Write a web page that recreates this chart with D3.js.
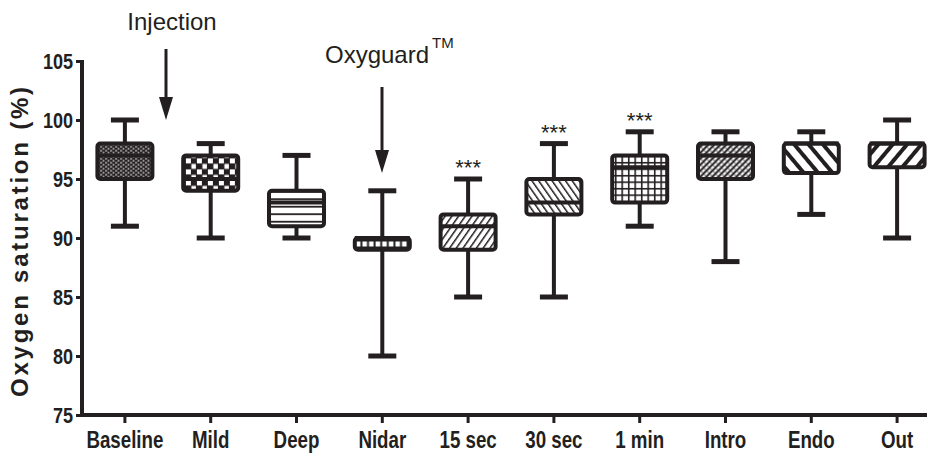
<!DOCTYPE html>
<html>
<head>
<meta charset="utf-8">
<script src="https://cdn.jsdelivr.net/npm/d3@7"></script>
<style>
  body { margin: 0; background: #fff; }
  svg { display: block; }
</style>
</head>
<body>
<div id="chart"></div>
<script>
// data (oxygen saturation, %)
const categories = ['Baseline', 'Mild', 'Deep', 'Nidar', '15 sec', '30 sec', '1 min', 'Intro', 'Endo', 'Out'];
const whiskerMin = [91, 90, 90, 80, 85, 85, 91, 88, 92, 90];
const q1 = [95, 94, 91, 89, 89, 92, 93, 95, 95.5, 96];
const median = [97, 95, 93, 90, 91, 93, 96, 97, 98, 98];
const q3 = [98, 97, 94, 90, 92, 95, 97, 98, 98, 98];
const whiskerMax = [100, 98, 97, 94, 95, 98, 99, 99, 99, 100];
const stars = ['', '', '', '', '***', '***', '***', '', '', ''];
const yTicks = [75, 80, 85, 90, 95, 100, 105];
const fillKinds = ['dots', 'checker', 'hlines', 'squares', 'slashThin', 'backThin', 'grid', 'cross', 'backWide', 'slashWide'];

const width = 928;
const height = 461;
const ink = '#231f20';
const sans = '"Liberation Sans", Arial, sans-serif';

const svg = d3.select('#chart')
  .append('svg')
  .attr('width', width)
  .attr('height', height);

const defs = svg.append('defs');

const x = d3.scaleBand()
  .domain(categories)
  .range([82, 940]);

const y = d3.scaleLinear()
  .domain([75, 105])
  .range([415, 61]);

const boxW = 55;

// squeeze a text to look like a condensed face (no narrow font installed)
function condense(sel, k = 0.8) {
  sel.each(function () {
    const w = this.getComputedTextLength();
    d3.select(this)
      .attr('textLength', w * k)
      .attr('lengthAdjust', 'spacingAndGlyphs');
  });
}

// pattern per box, anchored to the box corner
function makePattern(kind, i, x0, y0) {
  const id = `fill-${i}`;
  const p = defs.append('pattern')
    .attr('id', id)
    .attr('patternUnits', 'userSpaceOnUse')
    .attr('x', x0)
    .attr('y', y0);

  const diag = (period, lw, angle) => {
    p.attr('width', period).attr('height', period)
      .attr('patternTransform', `rotate(${angle} ${x0} ${y0})`);
    p.append('rect').attr('width', period).attr('height', period).attr('fill', '#fff');
    p.append('rect').attr('width', lw).attr('height', period).attr('fill', ink);
  };

  if (kind === 'dots') {
    p.attr('width', 5).attr('height', 4);
    p.append('rect').attr('width', 5).attr('height', 4).attr('fill', ink);
    p.append('rect').attr('x', 0.5).attr('y', 0.5).attr('width', 1.6).attr('height', 1.3).attr('fill', '#fff');
    p.append('rect').attr('x', 3).attr('y', 2.5).attr('width', 1.6).attr('height', 1.3).attr('fill', '#fff');
  } else if (kind === 'checker') {
    p.attr('width', 11).attr('height', 11);
    p.append('rect').attr('width', 11).attr('height', 11).attr('fill', ink);
    p.append('rect').attr('x', 1).attr('y', 3).attr('width', 5).attr('height', 5).attr('fill', '#fff');
    p.append('rect').attr('x', 6.5).attr('y', 8.5).attr('width', 5).attr('height', 2.5).attr('fill', '#fff');
    p.append('rect').attr('x', 6.5).attr('y', 0).attr('width', 5).attr('height', 2.5).attr('fill', '#fff');
  } else if (kind === 'hlines') {
    p.attr('width', 10).attr('height', 7.5);
    p.append('rect').attr('width', 10).attr('height', 7.5).attr('fill', '#fff');
    p.append('rect').attr('y', 0).attr('width', 10).attr('height', 1.8).attr('fill', ink);
  } else if (kind === 'squares') {
    p.attr('width', 6.6).attr('height', 12);
    p.append('rect').attr('width', 6.6).attr('height', 12).attr('fill', ink);
    p.append('rect').attr('x', 1.5).attr('y', 3.5).attr('width', 4.6).attr('height', 5).attr('fill', '#fff');
  } else if (kind === 'grid') {
    p.attr('width', 6.5).attr('height', 6.5);
    p.append('rect').attr('width', 6.5).attr('height', 6.5).attr('fill', '#fff');
    p.append('rect').attr('width', 1.6).attr('height', 6.5).attr('fill', ink);
    p.append('rect').attr('width', 6.5).attr('height', 1.6).attr('fill', ink);
  } else if (kind === 'slashThin') {
    diag(5.5, 1.5, 35);
  } else if (kind === 'backThin') {
    diag(5.5, 1.5, -35);
  } else if (kind === 'backWide') {
    diag(11, 4, -40);
  } else if (kind === 'slashWide') {
    diag(11, 4, 40);
  } else if (kind === 'cross') {
    p.attr('width', 6).attr('height', 6);
    p.append('rect').attr('width', 6).attr('height', 6).attr('fill', '#fff');
    p.append('path').attr('d', 'M0,6 L6,0 M-1,1 L1,-1 M5,7 L7,5').attr('stroke', ink).attr('stroke-width', 2);
    p.append('path').attr('d', 'M0,0 L6,6').attr('stroke', ink).attr('stroke-width', 0.8);
  }
  return id;
}

const rows = categories.map((c, i) => ({
  cat: c,
  lo: whiskerMin[i],
  q1: q1[i],
  med: median[i],
  q3: q3[i],
  hi: whiskerMax[i],
  star: stars[i],
  kind: fillKinds[i],
}));

// axes
const yAxis = svg.append('g')
  .attr('transform', 'translate(82,0)')
  .call(d3.axisLeft(y).tickValues(yTicks).tickSize(6).tickSizeOuter(0).tickPadding(3));

const xAxis = svg.append('g')
  .attr('transform', 'translate(0,415)')
  .call(d3.axisBottom(x).tickSize(8).tickSizeOuter(0).tickPadding(8));

[yAxis, xAxis].forEach(g => {
  g.select('.domain').remove();
  g.selectAll('.tick line').attr('stroke', ink).attr('stroke-width', 3);
  g.selectAll('.tick text')
    .attr('fill', ink)
    .style('font-family', sans)
    .style('font-weight', 'bold');
});
yAxis.selectAll('.tick text').style('font-size', '22px').attr('dy', '0.36em').call(condense, 0.82);
xAxis.selectAll('.tick text').style('font-size', '24px').call(condense, 0.78);

svg.append('line')
  .attr('x1', 82).attr('x2', 82)
  .attr('y1', y(105) - 1).attr('y2', y(75) + 2)
  .attr('stroke', ink).attr('stroke-width', 4);

svg.append('line')
  .attr('x1', 80).attr('x2', 927)
  .attr('y1', y(75)).attr('y2', y(75))
  .attr('stroke', ink).attr('stroke-width', 4);

// boxes
const boxes = svg.append('g')
  .selectAll('g')
  .data(rows)
  .join('g')
  .attr('transform', d => `translate(${x(d.cat) + x.bandwidth() / 2},0)`);

boxes.append('line')
  .attr('y1', d => y(d.hi)).attr('y2', d => y(d.lo))
  .attr('stroke', ink).attr('stroke-width', 4);

boxes.selectAll('line.cap')
  .data(d => [d.hi, d.lo])
  .join('line')
  .attr('class', 'cap')
  .attr('x1', -14).attr('x2', 14)
  .attr('y1', v => y(v)).attr('y2', v => y(v))
  .attr('stroke', ink).attr('stroke-width', 5);

boxes.append('rect')
  .attr('x', -boxW / 2)
  .attr('y', d => y(d.q3))
  .attr('width', boxW)
  .attr('height', d => y(d.q1) - y(d.q3))
  .attr('rx', 3)
  .attr('fill', (d, i) => `url(#${makePattern(d.kind, i, x(d.cat) + x.bandwidth() / 2 - boxW / 2, y(d.q3))})`)
  .attr('stroke', ink)
  .attr('stroke-width', 4);

boxes.append('line')
  .attr('x1', -boxW / 2).attr('x2', boxW / 2)
  .attr('y1', d => y(d.med)).attr('y2', d => y(d.med))
  .attr('stroke', ink).attr('stroke-width', 4);

boxes.filter(d => d.star)
  .append('text')
  .attr('y', d => y(d.hi) - 4)
  .attr('text-anchor', 'middle')
  .attr('fill', ink)
  .style('font-family', sans)
  .style('font-size', '22px')
  .text(d => d.star);

// y title
svg.append('text')
  .attr('transform', 'translate(28,242) rotate(-90)')
  .attr('text-anchor', 'middle')
  .attr('fill', ink)
  .attr('textLength', 310)
  .attr('lengthAdjust', 'spacing')
  .style('font-family', sans)
  .style('font-weight', 'bold')
  .style('font-size', '24px')
  .text('Oxygen saturation (%)');

// annotations
function arrow(cx, top, tip) {
  svg.append('line')
    .attr('x1', cx).attr('x2', cx)
    .attr('y1', top).attr('y2', tip - 20)
    .attr('stroke', ink).attr('stroke-width', 3);
  svg.append('path')
    .attr('d', d3.line()([[cx - 7, tip - 23], [cx + 7, tip - 23], [cx, tip]]) + 'Z')
    .attr('fill', ink);
}

svg.append('text')
  .attr('x', 172).attr('y', 30)
  .attr('text-anchor', 'middle')
  .attr('fill', ink)
  .style('font-family', sans)
  .style('font-size', '24px')
  .text('Injection');
arrow(166, 49, 120);

svg.append('text')
  .attr('x', 325).attr('y', 63)
  .attr('fill', ink)
  .style('font-family', sans)
  .style('font-size', '24px')
  .text('Oxyguard');

svg.append('text')
  .attr('x', 432).attr('y', 48)
  .attr('fill', ink)
  .style('font-family', sans)
  .style('font-size', '15px')
  .text('TM');
arrow(382, 87, 173);
</script>
</body>
</html>
